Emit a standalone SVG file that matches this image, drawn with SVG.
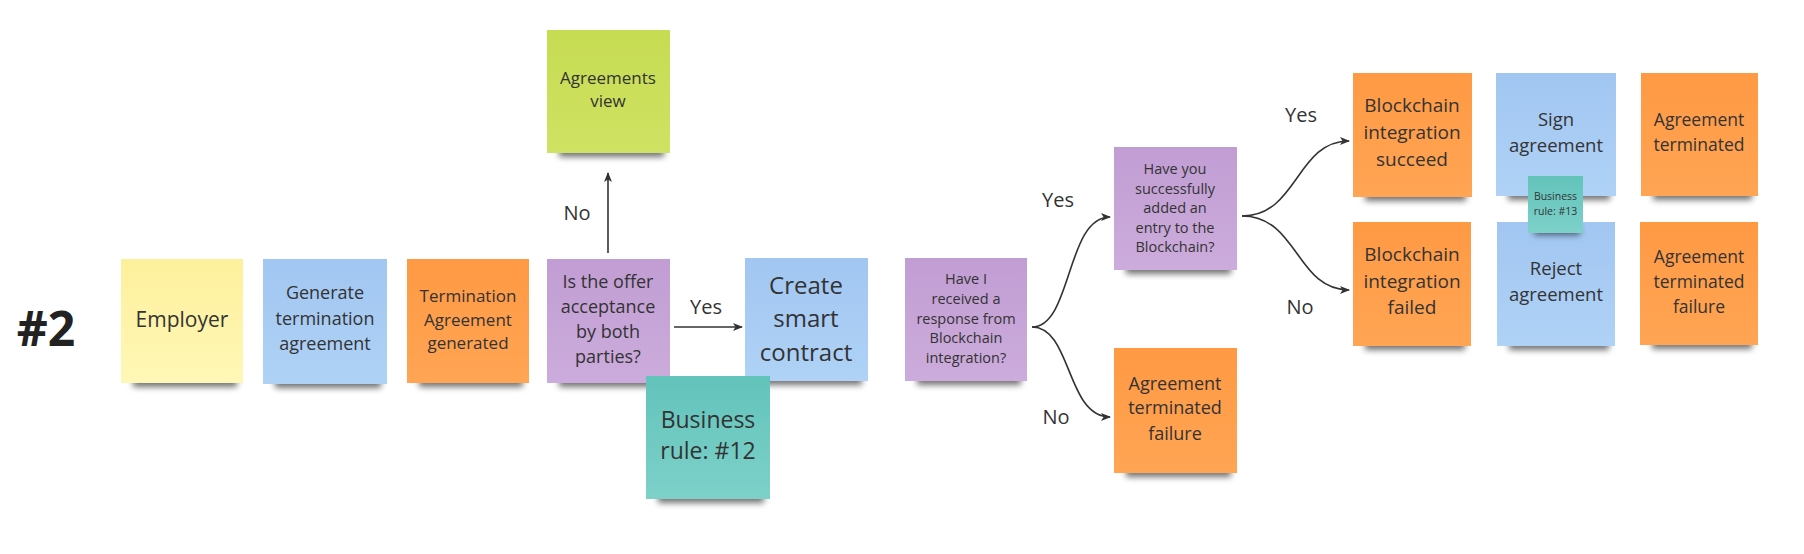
<svg xmlns="http://www.w3.org/2000/svg" width="1804" height="554" viewBox="0 0 1804 554">
<defs>
<linearGradient id="gY" x1="0" y1="0" x2="0" y2="1"><stop offset="0" stop-color="#fdf09c"/><stop offset="1" stop-color="#fff7b6"/></linearGradient>
<linearGradient id="gB" x1="0" y1="0" x2="0" y2="1"><stop offset="0" stop-color="#a1c6f1"/><stop offset="1" stop-color="#afd2f6"/></linearGradient>
<linearGradient id="gO" x1="0" y1="0" x2="0" y2="1"><stop offset="0" stop-color="#ff9944"/><stop offset="1" stop-color="#ffa554"/></linearGradient>
<linearGradient id="gP" x1="0" y1="0" x2="0" y2="1"><stop offset="0" stop-color="#c19dd3"/><stop offset="1" stop-color="#ccacdc"/></linearGradient>
<linearGradient id="gL" x1="0" y1="0" x2="0" y2="1"><stop offset="0" stop-color="#c6dc52"/><stop offset="1" stop-color="#d0e263"/></linearGradient>
<linearGradient id="gT" x1="0" y1="0" x2="0" y2="1"><stop offset="0" stop-color="#62c3bb"/><stop offset="1" stop-color="#7dd1c9"/></linearGradient>
<filter id="blur" x="-20%" y="-100%" width="140%" height="300%"><feGaussianBlur stdDeviation="3.2"/></filter>
<marker id="arr" viewBox="0 0 10 10" refX="9" refY="5" markerWidth="10" markerHeight="10" markerUnits="userSpaceOnUse" orient="auto"><path d="M0,1 L10,5 L0,9 L2.5,5 Z" fill="#333"/></marker>
<style>
.shd{fill:#000;opacity:.55;filter:url(#blur)}
.y{fill:url(#gY)}.b{fill:url(#gB)}.o{fill:url(#gO)}.p{fill:url(#gP)}.l{fill:url(#gL)}.t{fill:url(#gT)}
text{font-family:"Open Sans","Liberation Sans",sans-serif;fill:#333;text-anchor:middle}
.lbl{font-size:20px}
.con path{fill:none;stroke:#333;stroke-width:1.6;marker-end:url(#arr)}
</style>
</defs>
<rect width="1804" height="554" fill="#fff"/>
<text x="46" y="346" style="font-size:48px;font-weight:bold;fill:#222">#2</text>

<g id="employer"><rect class="shd" x="133" y="375" width="104" height="12"/><rect class="y" x="121" y="259" width="122" height="124"/><text x="182" y="327" font-size="21">Employer</text></g>
<g id="generate"><rect class="shd" x="275" y="376" width="106" height="12"/><rect class="b" x="263" y="259" width="124" height="125"/><text font-size="18"><tspan x="325" y="299">Generate</tspan><tspan x="325" y="325">termination</tspan><tspan x="325" y="350">agreement</tspan></text></g>
<g id="termination-generated"><rect class="shd" x="419" y="375" width="104" height="12"/><rect class="o" x="407" y="259" width="122" height="124"/><text font-size="17"><tspan x="468" y="302">Termination</tspan><tspan x="468" y="326">Agreement</tspan><tspan x="468" y="349">generated</tspan></text></g>
<g id="agreements-view"><rect class="shd" x="559" y="145" width="105" height="12"/><rect class="l" x="547" y="30" width="123" height="123"/><text font-size="17"><tspan x="608" y="84">Agreements</tspan><tspan x="608" y="107">view</tspan></text></g>
<g id="offer-acceptance"><rect class="shd" x="559" y="375" width="105" height="12"/><rect class="p" x="547" y="259" width="123" height="124"/><text font-size="18"><tspan x="608" y="288">Is the offer</tspan><tspan x="608" y="313">acceptance</tspan><tspan x="608" y="338">by both</tspan><tspan x="608" y="363">parties?</tspan></text></g>
<g id="create-contract"><rect class="shd" x="757" y="373" width="105" height="12"/><rect class="b" x="745" y="258" width="123" height="123"/><text font-size="24"><tspan x="806" y="294">Create</tspan><tspan x="806" y="327">smart</tspan><tspan x="806" y="361">contract</tspan></text></g>
<g id="business-rule-12"><rect class="shd" x="658" y="491" width="106" height="12"/><rect class="t" x="646" y="376" width="124" height="123"/><text font-size="23"><tspan x="708" y="428">Business</tspan><tspan x="708" y="459">rule: #12</tspan></text></g>
<g id="response-received"><rect class="shd" x="917" y="373" width="104" height="12"/><rect class="p" x="905" y="258" width="122" height="123"/><text font-size="14.5"><tspan x="966" y="284">Have I</tspan><tspan x="966" y="304">received a</tspan><tspan x="966" y="324">response from</tspan><tspan x="966" y="343">Blockchain</tspan><tspan x="966" y="363">integration?</tspan></text></g>
<g id="entry-added"><rect class="shd" x="1126" y="262" width="105" height="12"/><rect class="p" x="1114" y="147" width="123" height="123"/><text font-size="14.5"><tspan x="1175" y="174">Have you</tspan><tspan x="1175" y="194">successfully</tspan><tspan x="1175" y="213">added an</tspan><tspan x="1175" y="233">entry to the</tspan><tspan x="1175" y="252">Blockchain?</tspan></text></g>
<g id="terminated-failure-1"><rect class="shd" x="1126" y="465" width="105" height="12"/><rect class="o" x="1114" y="348" width="123" height="125"/><text font-size="18"><tspan x="1175" y="390">Agreement</tspan><tspan x="1175" y="414">terminated</tspan><tspan x="1175" y="440">failure</tspan></text></g>
<g id="integration-succeed"><rect class="shd" x="1365" y="189" width="101" height="12"/><rect class="o" x="1353" y="73" width="119" height="124"/><text font-size="19"><tspan x="1412" y="112">Blockchain</tspan><tspan x="1412" y="139">integration</tspan><tspan x="1412" y="166">succeed</tspan></text></g>
<g id="integration-failed"><rect class="shd" x="1365" y="338" width="100" height="12"/><rect class="o" x="1353" y="222" width="118" height="124"/><text font-size="19"><tspan x="1412" y="261">Blockchain</tspan><tspan x="1412" y="288">integration</tspan><tspan x="1412" y="314">failed</tspan></text></g>
<g id="sign-agreement"><rect class="shd" x="1508" y="188" width="102" height="12"/><rect class="b" x="1496" y="73" width="120" height="123"/><text font-size="18.5"><tspan x="1556" y="126">Sign</tspan><tspan x="1556" y="152">agreement</tspan></text></g>
<g id="reject-agreement"><rect class="shd" x="1509" y="338" width="100" height="12"/><rect class="b" x="1497" y="222" width="118" height="124"/><text font-size="18.5"><tspan x="1556" y="275">Reject</tspan><tspan x="1556" y="301">agreement</tspan></text></g>
<g id="business-rule-13"><rect class="shd" x="1534" y="227" width="46" height="8"/><rect class="t" x="1528" y="176" width="55" height="57"/><text font-size="10.5"><tspan x="1555.5" y="200">Business</tspan><tspan x="1555.5" y="215">rule: #13</tspan></text></g>
<g id="agreement-terminated"><rect class="shd" x="1653" y="188" width="99" height="12"/><rect class="o" x="1641" y="73" width="117" height="123"/><text font-size="17.5"><tspan x="1699" y="126">Agreement</tspan><tspan x="1699" y="151">terminated</tspan></text></g>
<g id="terminated-failure-2"><rect class="shd" x="1652" y="337" width="100" height="12"/><rect class="o" x="1640" y="222" width="118" height="123"/><text font-size="17.5"><tspan x="1699" y="263">Agreement</tspan><tspan x="1699" y="288">terminated</tspan><tspan x="1699" y="313">failure</tspan></text></g>

<g id="connectors" class="con">
<path d="M608,253 L608,173"/>
<path d="M674,327 L742,327"/>
<path d="M1032,327 C1072,327 1066,217 1110,217"/>
<path d="M1032,327 C1072,327 1066,417 1110,417"/>
<path d="M1242,216 C1298,216 1296,141 1349,141"/>
<path d="M1242,216 C1298,216 1296,290 1349,290"/>
</g>
<g id="labels">
<text class="lbl" x="577" y="220">No</text>
<text class="lbl" x="706" y="314">Yes</text>
<text class="lbl" x="1058" y="207">Yes</text>
<text class="lbl" x="1056" y="424">No</text>
<text class="lbl" x="1301" y="122">Yes</text>
<text class="lbl" x="1300" y="314">No</text>
</g>
</svg>
